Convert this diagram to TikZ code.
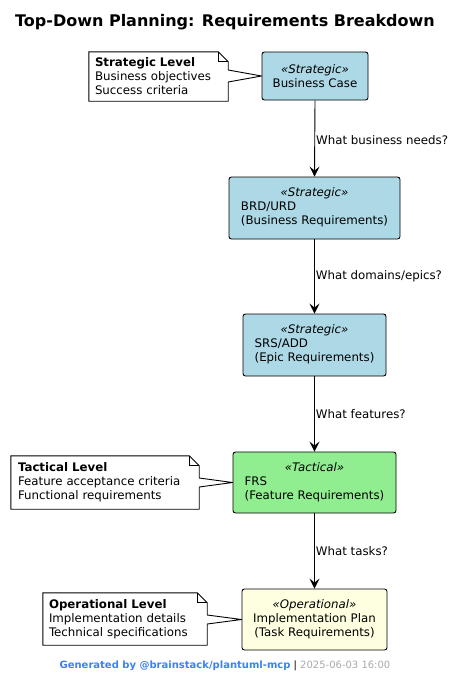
\documentclass[tikz,border=0pt]{standalone}
\usepackage{fontspec}
\setmainfont{DejaVu Sans}
\usetikzlibrary{arrows.meta,backgrounds}
\definecolor{stratblue}{HTML}{ADD8E6}
\definecolor{tactgreen}{HTML}{90EE90}
\definecolor{opyellow}{HTML}{FEFEE0}
\definecolor{footblue}{HTML}{3B82F6}
\definecolor{footgray}{HTML}{AAAAAA}
\tikzset{
  box/.style={draw=black, line width=0.9pt, rounded corners=2.5pt, align=center,
    inner sep=0pt, font=\fontsize{11.8}{14}\selectfont},
  notebody/.style={inner xsep=0pt, inner ysep=0pt, align=left,
    font=\fontsize{11.8}{14}\selectfont},
  noteline/.style={draw=black, line width=0.9pt, fill=white},
  flow/.style={draw=black, line width=0.9pt, -{Stealth[length=10pt,width=10pt,inset=4pt]}},
  flowlabel/.style={anchor=west, inner sep=1pt, font=\fontsize{11.8}{14}\selectfont},
}
\newcommand{\stereo}[1]{\textit{«#1»}}
\begin{document}
\begin{tikzpicture}[x=1pt,y=-1pt]
\begin{pgfonlayer}{background}
\fill[white] (0,0) rectangle (457,683);
\end{pgfonlayer}
\useasboundingbox (0,0) rectangle (457,683);

\node[font=\fontsize{16}{19}\selectfont\bfseries] (title) at (225,22) {Top-Down Planning: Requirements Breakdown};

% boxes
\node[box, fill=stratblue, minimum width=106pt, minimum height=48pt] (bc) at (315,76)
  {\stereo{Strategic}\\Business Case};
\node[box, fill=stratblue, minimum width=171pt, minimum height=62pt] (brd) at (314.5,208)
  {\begin{tabular}{@{}l@{}}\multicolumn{1}{@{}c@{}}{\stereo{Strategic}}\\BRD/URD\\(Business Requirements)\end{tabular}};
\node[box, fill=stratblue, minimum width=143pt, minimum height=62pt] (srs) at (314.5,345)
  {\begin{tabular}{@{}l@{}}\multicolumn{1}{@{}c@{}}{\stereo{Strategic}}\\SRS/ADD\\(Epic Requirements)\end{tabular}};
\node[box, fill=tactgreen, minimum width=163pt, minimum height=61pt] (frs) at (314.5,482.5)
  {\begin{tabular}{@{}l@{}}\multicolumn{1}{@{}c@{}}{\stereo{Tactical}}\\FRS\\(Feature Requirements)\end{tabular}};
\node[box, fill=opyellow, minimum width=145pt, minimum height=61pt] (impl) at (314.5,619.5)
  {\stereo{Operational}\\Implementation Plan\\(Task Requirements)};

% connectors
\draw[flow] (bc.south) -- (brd.north) node[flowlabel, pos=0.52] {What business needs?};
\draw[flow] (brd.south) -- (srs.north) node[flowlabel, pos=0.5] {What domains/epics?};
\draw[flow] (srs.south) -- (frs.north) node[flowlabel, pos=0.5] {What features?};
\draw[flow] (frs.south) -- (impl.north) node[flowlabel, pos=0.5] {What tasks?};

% notes
\node[notebody, minimum width=139pt, minimum height=49pt, text width=127pt] (n1) at (158.5,76.5)
  {\textbf{Strategic Level}\\Business objectives\\Success criteria};
\node[notebody, minimum width=188pt, minimum height=53pt, text width=174pt] (n2) at (105,482.5)
  {\textbf{Tactical Level}\\Feature acceptance criteria\\Functional requirements};
\node[notebody, minimum width=164pt, minimum height=52pt, text width=152pt] (n3) at (125,619)
  {\textbf{Operational Level}\\Implementation details\\Technical specifications};

\begin{pgfonlayer}{background}
\foreach \n/\ya/\yb/\tgt in {n1/70/82/bc, n2/478/487/frs, n3/615/624/impl}{
  \path[noteline] (\n.north west) -- ([xshift=-10pt]\n.north east) -- ([yshift=-10pt]\n.north east)
     -- (\n.south east) -- (\n.south west) -- cycle;
  \draw[line width=0.9pt] ([xshift=-10pt]\n.north east) -- ([xshift=-10pt,yshift=-10pt]\n.north east) -- ([yshift=-10pt]\n.north east);
  \coordinate (\n a) at (\n.east |- 0,\ya);
  \coordinate (\n b) at (\n.east |- 0,\yb);
  \fill[white] ([xshift=-1pt]\n a) -- (\tgt.west) -- ([xshift=-1pt]\n b) -- cycle;
  \draw[line width=0.9pt] (\n a) -- (\tgt.west) -- (\n b);
}
\end{pgfonlayer}

% footer
\node[font=\fontsize{10}{12}\selectfont, inner sep=0pt] (footer) at (225,666)
  {\textcolor{footblue}{\bfseries Generated by @brainstack/plantuml-mcp} | \textcolor{footgray}{2025-06-03 16:00}};
\end{tikzpicture}
\end{document}
